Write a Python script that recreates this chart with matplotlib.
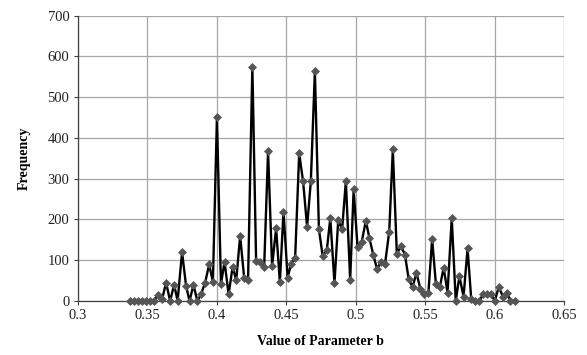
import matplotlib.pyplot as plt
import numpy as np

plt.rcParams.update({'font.size': 9, 'font.family': 'Liberation Serif'})

# parameter b values
b_values = [0.3377, 0.3405, 0.3434, 0.3463, 0.3492, 0.3521, 0.3549, 0.3578, 0.3607, 0.3636,
            0.3665, 0.3694, 0.3719, 0.3751, 0.3780, 0.3805, 0.3833, 0.3861, 0.3888, 0.3917,
            0.3946, 0.3973, 0.4002, 0.4031, 0.4057, 0.4086, 0.4115, 0.4141, 0.4169, 0.4198,
            0.4226, 0.4257, 0.4284, 0.4313, 0.4342, 0.4370, 0.4399, 0.4428, 0.4455, 0.4481,
            0.4511, 0.4536, 0.4565, 0.4594, 0.4622, 0.4651, 0.4678, 0.4707, 0.4736, 0.4763,
            0.4793, 0.4818, 0.4848, 0.4875, 0.4903, 0.4930, 0.4961, 0.4986, 0.5014, 0.5044,
            0.5074, 0.5099, 0.5128, 0.5155, 0.5182, 0.5212, 0.5242, 0.5268, 0.5297, 0.5326,
            0.5355, 0.5382, 0.5410, 0.5438, 0.5467, 0.5495, 0.5524, 0.5551, 0.5578, 0.5607,
            0.5634, 0.5662, 0.5692, 0.5721, 0.5747, 0.5777, 0.5806, 0.5832, 0.5861, 0.5890,
            0.5919, 0.5945, 0.5974, 0.6002, 0.6030, 0.6061, 0.6089, 0.6115, 0.6144]

frequency = [1, 0, 1, 0, 1, 0, 1, 15, 4, 45,
             0, 40, 0, 120, 37, 0, 40, 0, 17, 45,
             90, 47, 451, 42, 96, 16, 84, 51, 160, 57,
             51, 575, 98, 96, 84, 367, 86, 178, 46, 219,
             57, 92, 106, 362, 294, 182, 294, 564, 176, 111,
             125, 203, 44, 198, 176, 294, 52, 274, 133, 145,
             197, 155, 112, 78, 96, 91, 170, 372, 115, 135,
             114, 54, 34, 69, 29, 16, 20, 152, 42, 35,
             82, 20, 203, 0, 61, 11, 129, 6, 0, 0,
             17, 18, 17, 0, 34, 11, 20, 1, 0]

x_ticks = [0.3, 0.35, 0.4, 0.45, 0.5, 0.55, 0.6, 0.65]
y_ticks = [0, 100, 200, 300, 400, 500, 600, 700]

fig = plt.figure(figsize=(5.87, 3.55), dpi=100)
ax = fig.add_axes([0.1324, 0.1521, 0.8284, 0.8037])

ax.plot(b_values, frequency, color='black', lw=1.7, marker='D', ms=4.0,
        mfc='#555555', mec='#555555', mew=0.5, zorder=3, clip_on=False)

ax.set_xlim(0.3, 0.65)
ax.set_ylim(0, 700)
ax.set_xticks(x_ticks)
ax.set_xticklabels([f'{t:g}' for t in x_ticks])
ax.set_yticks(y_ticks)
ax.grid(True, color='#a6a6a6', lw=0.9)
ax.set_axisbelow(True)

for s in ['top', 'right']:
    ax.spines[s].set_visible(False)
for s in ['left', 'bottom']:
    ax.spines[s].set_color('#404040')
    ax.spines[s].set_linewidth(0.9)
ax.tick_params(direction='out', length=3, width=0.8, color='#404040',
               labelcolor='#222222', labelsize=10.5, pad=3)

ax.set_xlabel('Value of Parameter b', fontweight='bold', fontsize=10, labelpad=9)
ax.set_ylabel('Frequency', fontweight='bold', fontsize=10, labelpad=12)

fig.savefig('out.png', dpi=100)
